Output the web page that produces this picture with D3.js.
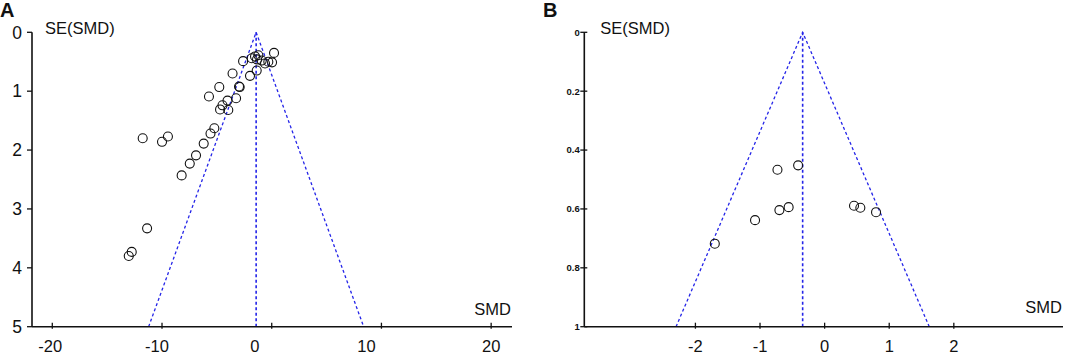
<!DOCTYPE html>
<html>
<head>
<meta charset="utf-8">
<script src="https://cdn.jsdelivr.net/npm/d3@7"></script>
<style>
html,body{margin:0;padding:0;background:#fff;}
svg{display:block;font-family:"Liberation Sans",Arial,sans-serif;}
</style>
</head>
<body>
<svg id="chart" width="1065" height="354"></svg>
<script>
// ---------- data ----------
const smdA = [-11.76,-10.00,-9.46,-8.21,-7.47,-6.90,-6.20,-5.58,-5.23,-5.72,-4.78,-4.71,-4.49,-4.03,-3.96,-3.25,-2.98,-2.92,-3.57,-1.98,-2.61,-1.37,-1.82,-1.52,-1.22,-1.34,-0.91,-0.61,-0.31,0.03,0.21,-11.36,-12.76,-13.03];
const seA  = [1.80,1.86,1.77,2.43,2.23,2.09,1.89,1.72,1.63,1.09,0.93,1.31,1.24,1.16,1.32,1.12,0.92,0.93,0.70,0.74,0.49,0.65,0.44,0.41,0.39,0.46,0.48,0.53,0.50,0.51,0.35,3.33,3.73,3.80];
const pooledA = -1.42;
const xTicksA = [-20,-10,0,10,20];
const yTicksA = [0,1,2,3,4,5];

const smdB = [-0.73,-0.41,-0.70,-0.557,-1.077,-1.70,0.455,0.553,0.796];
const seB  = [0.467,0.452,0.604,0.594,0.638,0.718,0.589,0.596,0.611];
const pooledB = -0.34;
const xTicksB = [-2,-1,0,1,2];
const yTicksB = [0,0.2,0.4,0.6,0.8,1];
const yTickLabelsB = ["0","0.2","0.4","0.6","0.8","1"];
const z = 1.96;

// ---------- layout / style ----------
const svg = d3.select("#chart");
const blue = "#2424e8";

function panel(opt){
  const g = svg.append("g");
  const x = d3.scaleLinear().domain(opt.xDomain).range(opt.xRange);
  const y = d3.scaleLinear().domain(opt.yDomain).range(opt.yRange);
  const yMax = opt.yDomain[1];

  // funnel
  const c = opt.pooled;
  const funnel = [[c - z*yMax, yMax],[c,0],[c + z*yMax, yMax]];
  const line = d3.line().x(d=>x(d[0])).y(d=>y(d[1]));
  g.append("path").attr("d", line(funnel)).attr("fill","none")
    .attr("stroke",blue).attr("stroke-width",1.3).attr("stroke-dasharray","3,2.5");
  g.append("path").attr("d", line([[c,0],[c,yMax]])).attr("fill","none")
    .attr("stroke",blue).attr("stroke-width",1.6).attr("stroke-dasharray","3,2.5");

  // points
  g.selectAll("circle.pt").data(opt.smd.map((v,i)=>[v,opt.se[i]])).join("circle")
    .attr("class","pt").attr("cx",d=>x(d[0])).attr("cy",d=>y(d[1])).attr("r",opt.r)
    .attr("fill","none").attr("stroke","#111").attr("stroke-width",1.1);

  // x axis
  const xg = g.append("g").attr("transform",`translate(0,${opt.yRange[1]})`);
  xg.append("line").attr("x1",opt.xRange[0]).attr("x2",opt.xRange[1]).attr("y1",0).attr("y2",0)
    .attr("stroke","#111").attr("stroke-width",1.6);
  xg.selectAll("line.t").data(opt.xTicks).join("line").attr("class","t")
    .attr("x1",d=>x(d)).attr("x2",d=>x(d)).attr("y1",-4).attr("y2",2)
    .attr("stroke","#111").attr("stroke-width",1.3);
  xg.selectAll("text").data(opt.xTicks).join("text")
    .attr("x",(d,i)=>x(d)+(opt.xLabelShift? opt.xLabelShift[i]:0)).attr("y",opt.xLabelDy)
    .attr("text-anchor","middle").attr("font-size",16.5).attr("fill","#111")
    .text(d=>d);

  // y axis
  const yg = g.append("g").attr("transform",`translate(${opt.xRange[0]},0)`);
  yg.append("line").attr("x1",0).attr("x2",0).attr("y1",opt.yRange[0]).attr("y2",opt.yRange[1])
    .attr("stroke","#111").attr("stroke-width",1.6);
  yg.selectAll("line.t").data(opt.yTicks).join("line").attr("class","t")
    .attr("x1",opt.yTickX1).attr("x2",opt.yTickX2).attr("y1",d=>y(d)).attr("y2",d=>y(d))
    .attr("stroke","#111").attr("stroke-width",1.3);
  yg.selectAll("text").data(opt.yTicks).join("text")
    .attr("x",opt.yLabelX).attr("y",d=>y(d)).attr("dy","0.36em")
    .attr("text-anchor","end").attr("font-size",opt.yFont).attr("font-weight",opt.yWeight)
    .attr("fill","#111").text((d,i)=>opt.yLabels[i]);

  // axis titles
  g.append("text").attr("x",opt.xRange[0]+opt.seTitleDx).attr("y",34)
    .attr("font-size",16.5).attr("fill","#111").text("SE(SMD)");
  g.append("text").attr("x",opt.xRange[1]-1).attr("y",opt.smdTitleY)
    .attr("text-anchor","end").attr("font-size",16.5).attr("fill","#111").text("SMD");

  // panel letter
  g.append("text").attr("x",opt.letterX).attr("y",17).attr("font-size",20)
    .attr("font-weight","bold").attr("fill","#111").text(opt.letter);
}

panel({
  smd: smdA, se: seA, pooled: pooledA,
  xDomain: [-21.85, 21.9], xRange: [32, 512],
  yDomain: [0, 5], yRange: [32.3, 326.7],
  xTicks: xTicksA, yTicks: yTicksA, yLabels: yTicksA.map(String),
  xLabelShift: [-2,-5,-17,-15,0], xLabelDy: 25.5,
  yTickX1: -5, yTickX2: 0, yLabelX: -10, yFont: 17.5, yWeight: "normal",
  seTitleDx: 13, smdTitleY: 315, r: 4.5, letter: "A", letterX: 0
});

panel({
  smd: smdB, se: seB, pooled: pooledB,
  xDomain: [-3.72, 3.69], xRange: [584.3, 1063],
  yDomain: [0, 1], yRange: [32.3, 326.7],
  xTicks: xTicksB, yTicks: yTicksB, yLabels: yTickLabelsB,
  xLabelShift: null, xLabelDy: 25.5,
  yTickX1: -4, yTickX2: 3, yLabelX: -4.5, yFont: 9.5, yWeight: "bold",
  seTitleDx: 16, smdTitleY: 313, r: 4.5, letter: "B", letterX: 543
});
</script>
</body>
</html>
